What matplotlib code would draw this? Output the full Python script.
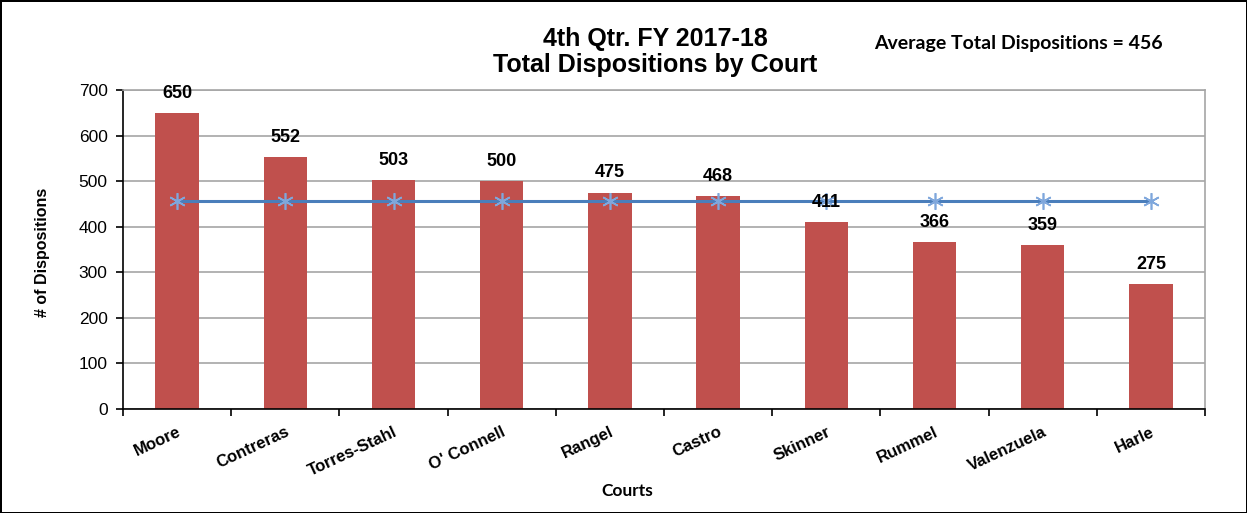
import matplotlib
matplotlib.use("Agg")
import matplotlib.pyplot as plt
import numpy as np

courts = ["Moore", "Contreras", "Torres-Stahl", "O' Connell", "Rangel",
          "Castro", "Skinner", "Rummel", "Valenzuela", "Harle"]
dispositions = [650, 552, 503, 500, 475, 468, 411, 366, 359, 275]
average = 456
yticks = [0, 100, 200, 300, 400, 500, 600, 700]

fig = plt.figure(figsize=(12.47, 5.13), dpi=100)
fig.patch.set_edgecolor("black")
fig.patch.set_linewidth(2)

W, H = 1247, 513
left, right, top, bottom = 123, 1205, 90, 409
ax = fig.add_axes([left / W, 1 - bottom / H, (right - left) / W, (bottom - top) / H])

x = np.arange(len(courts))
ax.bar(x, dispositions, width=0.4, color="#C0504D", zorder=2)
ax.plot(x, [average] * len(courts), color="#4A7EBB", linewidth=2.2, zorder=3,
        marker=(6, 2, 0), markersize=12, markeredgecolor="#7FA7DC",
        markeredgewidth=1.2)

for xi, v in zip(x, dispositions):
    ax.annotate(str(v), (xi, v), xytext=(0, 8), textcoords="offset points",
                ha="center", va="bottom", fontsize=13, fontweight="bold",
                family="Liberation Sans", zorder=4)

ax.set_xlim(-0.5, len(courts) - 0.5)
ax.set_ylim(0, 700)
ax.set_yticks(yticks)
ax.set_yticklabels([str(t) for t in yticks], family="Liberation Sans", fontsize=12.5)
ax.yaxis.grid(True, color="#A6A6A6", linewidth=1.2, zorder=0)
ax.set_axisbelow(True)

ax.set_xticks(x)
ax.set_xticklabels(courts, rotation=25, ha="right", rotation_mode="anchor",
                   family="Liberation Sans", fontsize=12, fontweight="bold")
ax.tick_params(axis="x", which="major", length=0, pad=11)
ax.set_xticks(np.arange(-0.5, len(courts), 1.0), minor=True)
ax.tick_params(axis="x", which="minor", length=5, width=1.2, direction="out")
ax.tick_params(axis="y", length=5, width=1.2, direction="out", pad=6)

for s in ["top", "right"]:
    ax.spines[s].set_color("#A6A6A6")
    ax.spines[s].set_linewidth(1.2)
for s in ["left", "bottom"]:
    ax.spines[s].set_color("black")
    ax.spines[s].set_linewidth(1.2)

fig.text(655 / W, 1 - 52 / H, "4th Qtr. FY 2017-18\nTotal Dispositions by Court",
         ha="center", va="center", fontsize=18, fontweight="bold",
         family="Liberation Sans", linespacing=1.1)
fig.text(1018 / W, 1 - 44 / H, "Average Total Dispositions = 456",
         ha="center", va="center", fontsize=14, fontweight="bold", family="Lato")
fig.text(42 / W, 1 - 252 / H, "# of Dispositions", rotation=90,
         ha="center", va="center", fontsize=11.5, fontweight="bold", family="Liberation Sans")
fig.text(627 / W, 1 - 491 / H, "Courts", ha="center", va="center",
         fontsize=12.5, fontweight="bold", family="Lato")

fig.savefig("out.png", dpi=100, edgecolor=fig.get_edgecolor())
